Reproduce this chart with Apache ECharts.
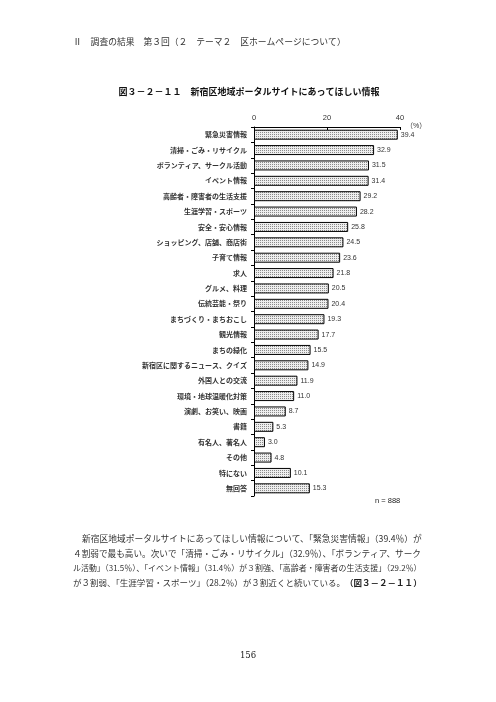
<!DOCTYPE html>
<html>
<head>
<meta charset="utf-8">
<script src="https://cdn.jsdelivr.net/npm/echarts@6/dist/echarts.min.js"></script>
<style>
html,body{margin:0;padding:0;background:#fff;}
#c{width:496px;height:702px;}
</style>
</head>
<body>
<div id="c"></div>
<script>
// ---- data ----
const categories = ['緊急災害情報','清掃・ごみ・リサイクル','ボランティア、サークル活動','イベント情報','高齢者・障害者の生活支援','生涯学習・スポーツ','安全・安心情報','ショッピング、店舗、商店街','子育て情報','求人','グルメ、料理','伝統芸能・祭り','まちづくり・まちおこし','観光情報','まちの緑化','新宿区に関するニュース、クイズ','外国人との交流','環境・地球温暖化対策','演劇、お笑い、映画','書籍','有名人、著名人','その他','特にない','無回答'];
const values = [39.4,32.9,31.5,31.4,29.2,28.2,25.8,24.5,23.6,21.8,20.5,20.4,19.3,17.7,15.5,14.9,11.9,11.0,8.7,5.3,3.0,4.8,10.1,15.3];
const xTicks = [0,20,40];
const headerText = 'Ⅱ　調査の結果　第３回（２　テーマ２　区ホームページについて）';
const titleText = '図３－２－１１　新宿区地域ポータルサイトにあってほしい情報';
const unitText = '（%）';
const nText = 'n = 888';
const bodyLines = [
  '新宿区地域ポータルサイトにあってほしい情報について、「緊急災害情報」（39.4％）が',
  '４割弱で最も高い。次いで「清掃・ごみ・リサイクル」（32.9％）、「ボランティア、サーク',
  'ル活動」（31.5％）、「イベント情報」（31.4％）が３割強、「高齢者・障害者の生活支援」（29.2％）',
  'が３割弱、「生涯学習・スポーツ」（28.2％）が３割近くと続いている。'
];
const bodyTail = '（図３－２－１１）';
const pageNo = '156';

// ---- pattern fill ----
const pc = document.createElement('canvas');
pc.width = 2; pc.height = 2;
const pctx = pc.getContext('2d');
pctx.fillStyle = '#eeeeee'; pctx.fillRect(0,0,2,2);
pctx.fillStyle = '#8a8a8a'; pctx.fillRect(0,0,1,1);

const chart = echarts.init(document.getElementById('c'), null, {renderer:'canvas'});
const JP = '"Noto Sans CJK JP", sans-serif';

const mctx = document.createElement('canvas').getContext('2d');
function measure(t, font){ mctx.font = font; return mctx.measureText(t).width; }

const bodyX = [82, 73, 73, 73];
const bodyY = [539, 554, 568, 583];
const bodyRight = 422;
const graphics = [
  {type:'text', left:73, top:37, style:{text:headerText, font:'8.8px ' + JP, fill:'#333'}},
  {type:'text', x:249, y:92, style:{text:titleText, font:'bold 9px ' + JP, fill:'#111', align:'center', verticalAlign:'middle'}},
  {type:'text', x:406, y:126, style:{text:unitText, font:'7px "Liberation Sans", ' + JP, fill:'#333', align:'left', verticalAlign:'middle'}},
  {type:'text', x:375, y:501, style:{text:nText, font:'7.5px "Liberation Sans", sans-serif', fill:'#222', align:'left', verticalAlign:'middle'}},
  {type:'text', x:248, y:656, style:{text:pageNo, font:'8.5px "DejaVu Serif", serif', fill:'#222', align:'center', verticalAlign:'middle'}}
];
bodyLines.forEach((t,i)=>{
  const base = 8.5;
  let w = measure(t, base + 'px ' + JP);
  if (i === 3) w += measure(bodyTail, 'bold ' + base + 'px ' + JP);
  const target = bodyRight - bodyX[i];
  const fs = Math.min(9, base * target / w);
  graphics.push({type:'text', x:bodyX[i], y:bodyY[i], style:{text:t, font:fs.toFixed(2) + 'px ' + JP, fill:'#333', verticalAlign:'middle'}});
  if (i === 3) {
    const w1 = measure(t, fs.toFixed(2) + 'px ' + JP);
    graphics.push({type:'text', x:bodyX[i] + w1, y:bodyY[i], style:{text:bodyTail, font:'bold ' + fs.toFixed(2) + 'px ' + JP, fill:'#222', verticalAlign:'middle'}});
  }
});

const option = {
  animation:false,
  backgroundColor:'#fff',
  grid:{left:254, top:127, width:146, height:369, containLabel:false},
  xAxis:{
    type:'value', position:'top', min:0, max:40, interval:20,
    axisLine:{show:true, lineStyle:{color:'#000', width:1}},
    axisTick:{show:true, inside:true, length:3, lineStyle:{color:'#000'}},
    axisLabel:{fontSize:7.5, color:'#333', margin:5, fontFamily:'"Liberation Sans", sans-serif',
      customValues: xTicks},
    splitLine:{show:false}
  },
  yAxis:{
    type:'category', inverse:true, data:categories,
    axisLine:{show:true, lineStyle:{color:'#000', width:1}},
    axisTick:{show:true, length:3, lineStyle:{color:'#000'}},
    axisLabel:{fontSize:7, color:'#333', margin:7, fontFamily:JP, fontWeight:'bold'},
    splitLine:{show:false}
  },
  series:[{
    type:'bar', data:values, barWidth:10,
    itemStyle:{color:{image:pc, repeat:'repeat'}, borderColor:'#000', borderWidth:1},
    label:{show:true, position:'right', distance:3, fontSize:7, color:'#333',
      fontFamily:'"Liberation Sans", sans-serif', formatter:p=>p.value.toFixed(1)}
  }],
  graphic:graphics
};
chart.setOption(option);
</script>
</body>
</html>
